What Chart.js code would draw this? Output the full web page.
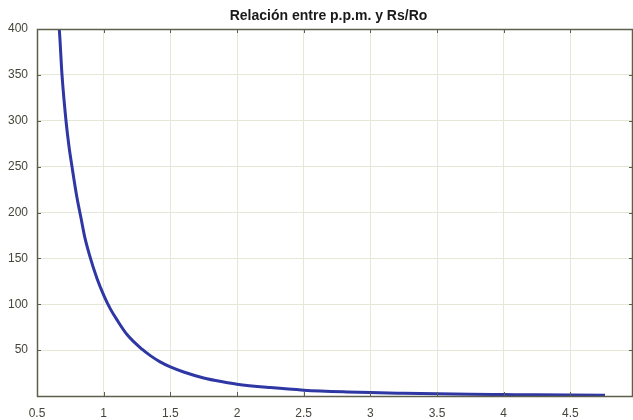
<!DOCTYPE html>
<html>
<head>
<meta charset="utf-8">
<script src="https://cdn.jsdelivr.net/npm/chart.js@4.4.1/dist/chart.umd.min.js"></script>
<style>
  html, body { margin: 0; padding: 0; background: #ffffff; }
  #wrap { width: 633px; height: 420px; }
</style>
</head>
<body>
<div id="wrap"><canvas id="c" width="633" height="420"></canvas></div>
<script>
// Rs/Ro values (x)
const rsRo = [0.65, 0.667, 0.6875, 0.7175, 0.74, 0.7625, 0.80, 0.83, 0.86, 0.895, 0.95, 1.0, 1.05, 1.1, 1.175, 1.2875, 1.35, 1.42, 1.5, 1.6, 1.75, 1.9, 2.0, 2.25, 2.5, 2.825, 3.0, 3.25, 3.5, 3.75, 4.0, 4.25, 4.5, 4.76];
// p.p.m. values (y)
const ppm = [420, 400, 350, 300, 272, 250, 216, 194, 172, 153, 128, 110, 95, 83, 67, 51, 44, 37.5, 31.7, 26.2, 19.7, 15.3, 12.9, 9.2, 6.4, 4.4, 3.7, 3.0, 2.4, 1.9, 1.6, 1.3, 1.1, 0.9];
const xTicks = [0.5, 1, 1.5, 2, 2.5, 3, 3.5, 4, 4.5];
const yTicks = [50, 100, 150, 200, 250, 300, 350, 400];
const titleText = 'Relación entre p.p.m. y Rs/Ro';

const points = rsRo.map((x, i) => ({ x: x, y: ppm[i] }));

const frameColor = '#5e5e4c';
const labelColor = '#45453a';
const gridColor = '#e4e8d6';

const framePlugin = {
  id: 'frame',
  afterDatasetsDraw(chart) {
    const { ctx, chartArea: a, scales } = chart;
    ctx.save();
    ctx.strokeStyle = frameColor;
    ctx.lineWidth = 1;
    xTicks.forEach(v => {
      const px = Math.round(scales.x.getPixelForValue(v)) + 0.5;
      ctx.beginPath();
      ctx.moveTo(px, a.bottom); ctx.lineTo(px, a.bottom - 4);
      ctx.moveTo(px, a.top); ctx.lineTo(px, a.top + 4);
      ctx.stroke();
    });
    yTicks.forEach(v => {
      const py = Math.round(scales.y.getPixelForValue(v)) + 0.5;
      ctx.beginPath();
      ctx.moveTo(a.left, py); ctx.lineTo(a.left + 4, py);
      ctx.moveTo(a.right, py); ctx.lineTo(a.right - 4, py);
      ctx.stroke();
    });
    ctx.lineWidth = 1.5;
    ctx.strokeRect(a.left + 0.5, a.top + 0.5, a.right - a.left - 1, a.bottom - a.top);
    // title
    ctx.fillStyle = '#1a1a1a';
    ctx.font = 'bold 14px "Liberation Sans", Arial, sans-serif';
    ctx.textAlign = 'center';
    ctx.textBaseline = 'alphabetic';
    ctx.fillText(titleText, 328.5, 20);
    ctx.restore();
  }
};

new Chart(document.getElementById('c'), {
  type: 'line',
  data: {
    datasets: [{
      data: points,
      borderColor: '#2e37a3',
      borderWidth: 3,
      pointRadius: 0,
      fill: false,
      cubicInterpolationMode: 'monotone',
      clip: 0
    }]
  },
  options: {
    responsive: false,
    animation: false,
    layout: { padding: { left: 0, right: 0, top: 29, bottom: 0 } },
    plugins: {
      legend: { display: false },
      tooltip: { enabled: false },
      title: { display: false }
    },
    scales: {
      x: {
        type: 'linear',
        min: 0.5,
        max: 4.97,
        afterBuildTicks: (s) => { s.ticks = xTicks.map(v => ({ value: v })); },
        afterFit: (s) => { s.height = 24; },
        ticks: {
          includeBounds: false,
          color: labelColor,
          font: { family: 'Liberation Sans, Arial, sans-serif', size: 12 },
          padding: 10,
          maxRotation: 0,
          autoSkip: false,
          callback: (v) => String(v)
        },
        grid: { color: gridColor, lineWidth: 1, drawTicks: false },
        border: { display: false }
      },
      y: {
        type: 'linear',
        min: 0,
        max: 400,
        afterBuildTicks: (s) => { s.ticks = [0].concat(yTicks).map(v => ({ value: v })); },
        afterFit: (s) => { s.width = 37; },
        ticks: {
          color: labelColor,
          font: { family: 'Liberation Sans, Arial, sans-serif', size: 12 },
          padding: 9,
          autoSkip: false,
          callback: (v) => v === 0 ? '' : String(v)
        },
        grid: { color: gridColor, lineWidth: 1, drawTicks: false },
        border: { display: false }
      }
    }
  },
  plugins: [framePlugin]
});
</script>
</body>
</html>
